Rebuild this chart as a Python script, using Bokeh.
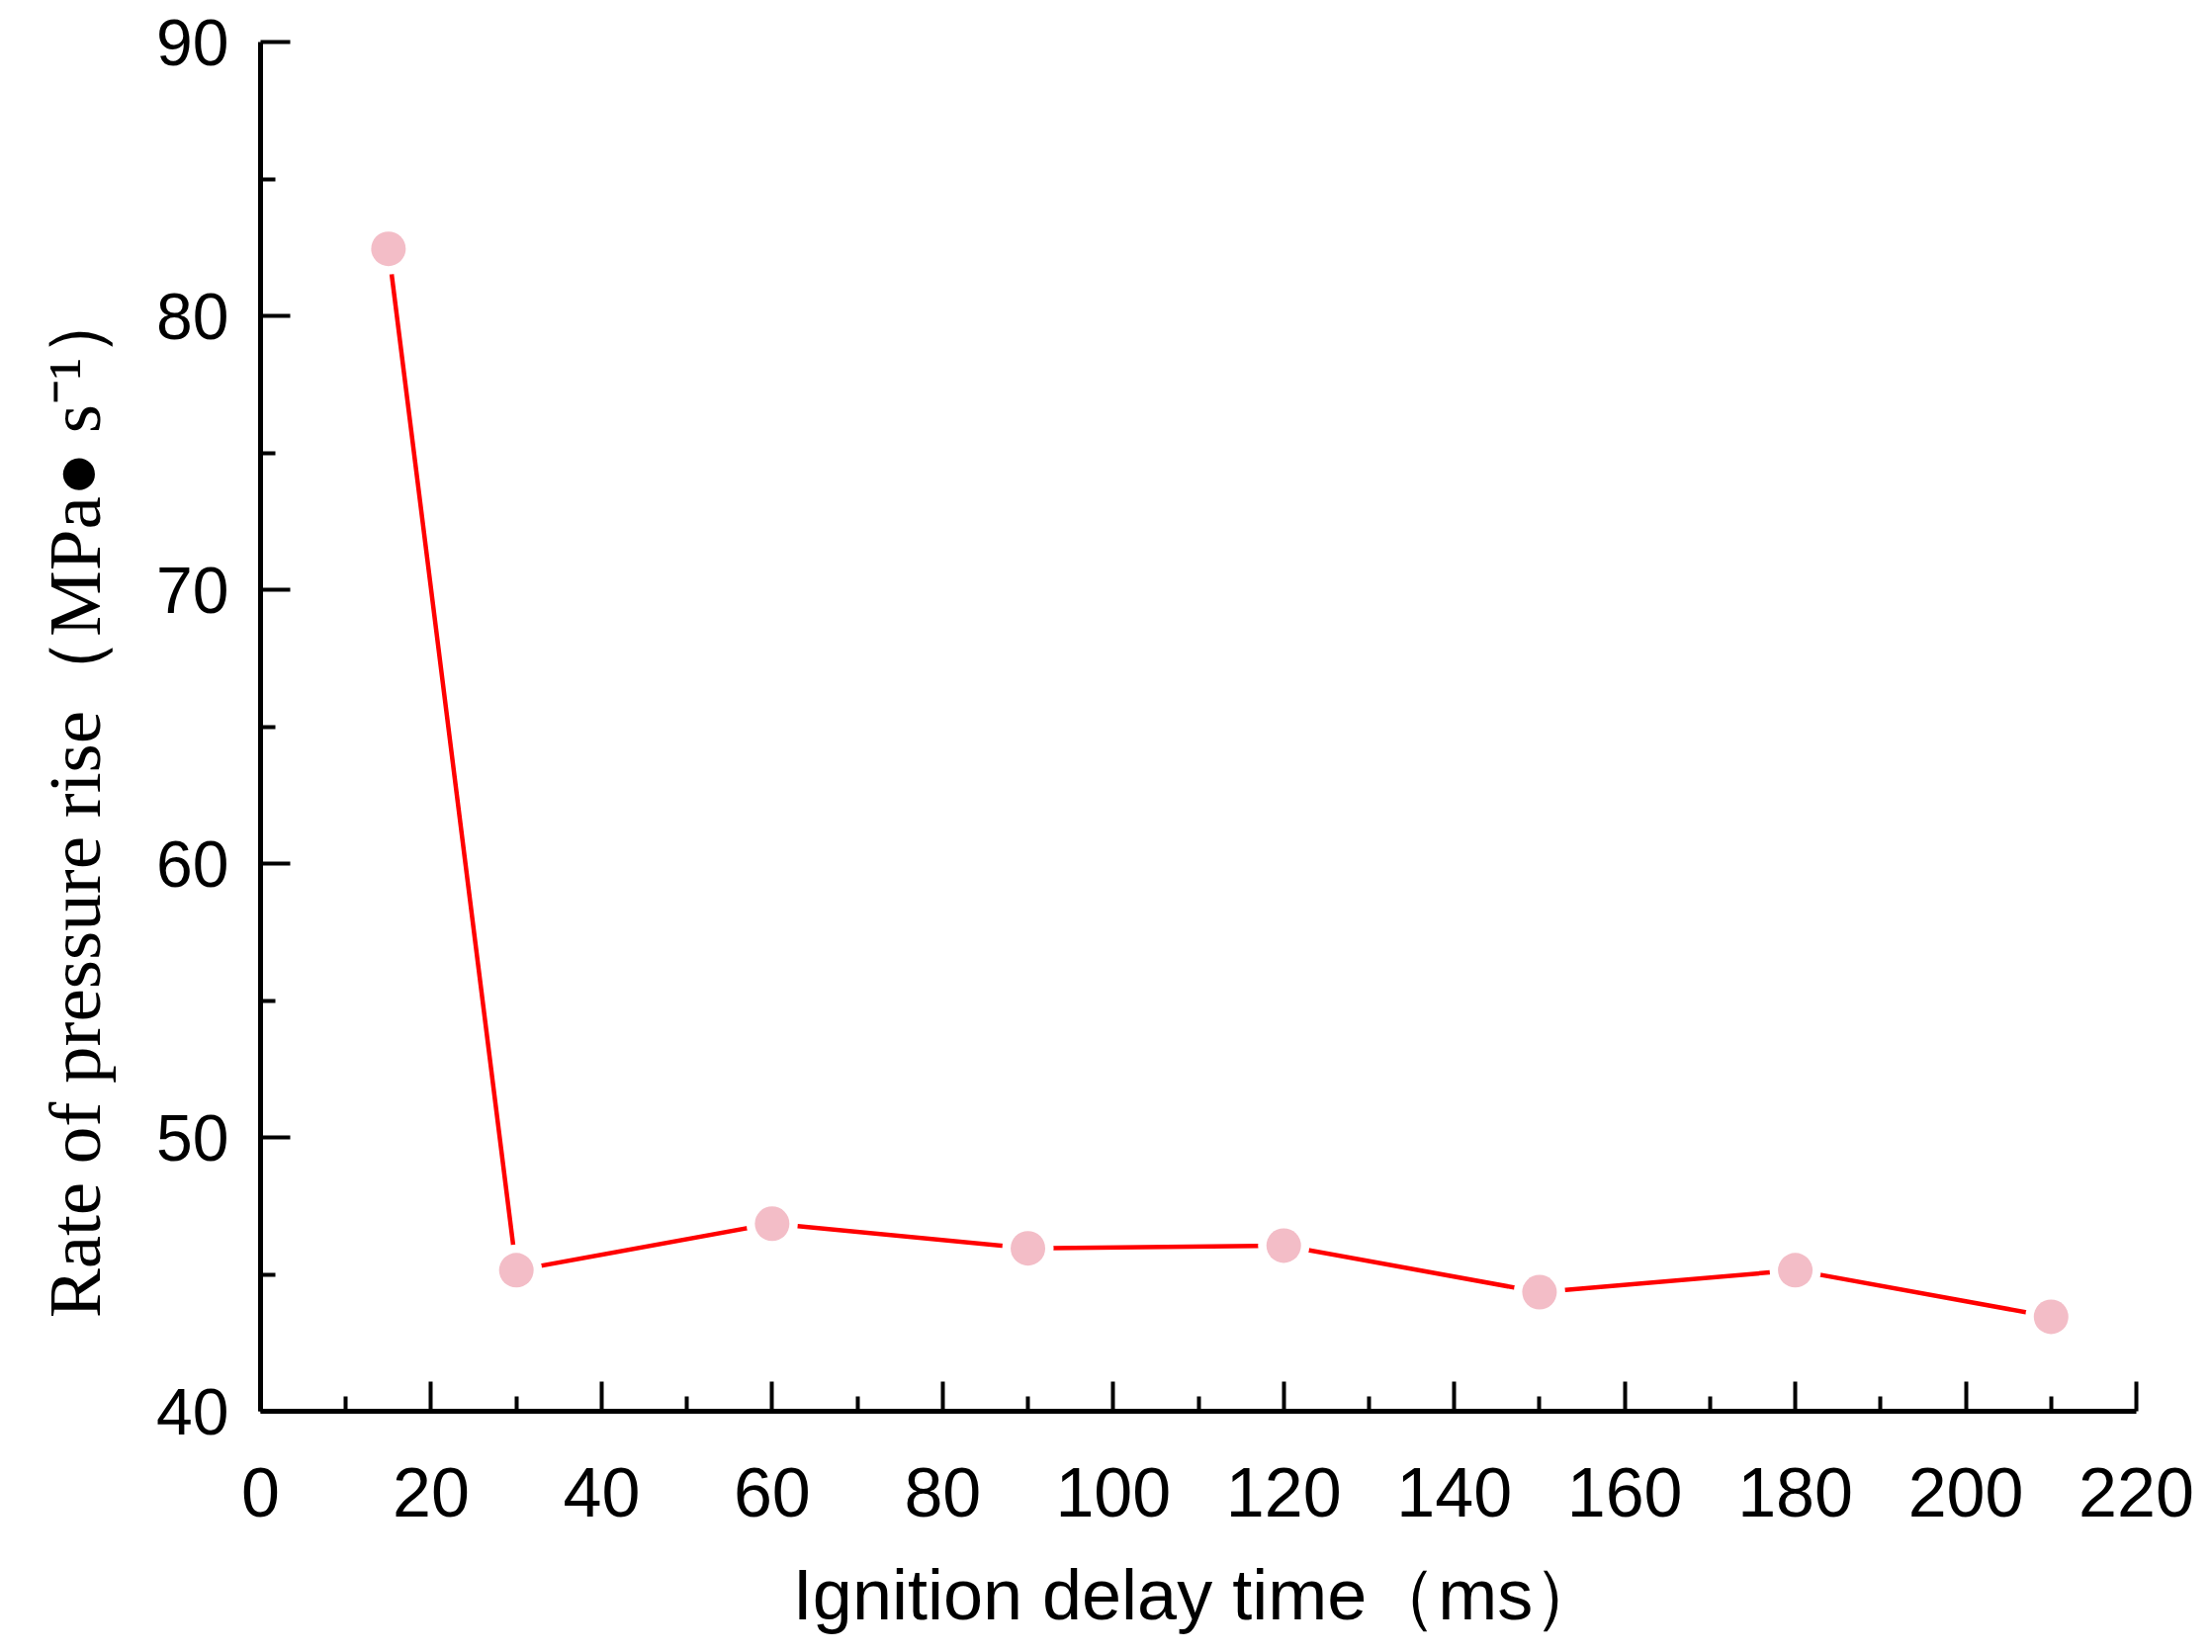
from bokeh.plotting import figure
from bokeh.models import Range1d, FixedTicker
from bokeh.embed import file_html
from bokeh.resources import INLINE

# Data
delay_ms = [15, 30, 60, 90, 120, 150, 180, 210]
rise_rate = [82.45, 45.15, 46.85, 45.95, 46.05, 44.35, 45.15, 43.45]

x_ticks = [0, 20, 40, 60, 80, 100, 120, 140, 160, 180, 200, 220]
y_ticks = [40, 50, 60, 70, 80, 90]

x_title = "Ignition delay time（ms）"
y_title = "Rate of pressure rise（MPa● s⁻¹）"
# trailing no-break spaces shift the visible title downward, as in the reference
y_pad = "\u00a0" * 8

p = figure(width=2221, height=1655, output_backend="svg", toolbar_location=None,
           x_range=Range1d(0, 220), y_range=Range1d(40, 90),
           min_border_left=263, min_border_right=61, min_border_top=42, min_border_bottom=218)

p.outline_line_color = None
p.xgrid.visible = False
p.ygrid.visible = False
p.background_fill_color = "white"
p.border_fill_color = "white"

p.line(delay_ms, rise_rate, line_color="#FF0000", line_width=4.5)
# white halo so the line stops short of each marker
p.scatter(delay_ms, rise_rate, size=52, fill_color="white", line_color=None)
p.scatter(delay_ms, rise_rate, size=35, fill_color="#F3BDC7", line_color=None)

for ax, ticks, half in ((p.xaxis, x_ticks, 10), (p.yaxis, y_ticks, 5)):
    ax.ticker = FixedTicker(ticks=ticks, minor_ticks=[t + half for t in ticks[:-1]])
    ax.axis_line_width = 5
    ax.axis_line_color = "black"
    ax.major_tick_in = 30
    ax.major_tick_out = 0
    ax.minor_tick_in = 15
    ax.minor_tick_out = 0
    ax.major_tick_line_width = 4
    ax.minor_tick_line_width = 4
    ax.major_tick_line_color = "black"
    ax.minor_tick_line_color = "black"
    ax.major_label_text_font = "Liberation Sans"
    ax.major_label_text_color = "black"

p.yaxis.major_label_text_font_size = "66px"
p.xaxis.major_label_text_font_size = "70px"
p.yaxis.major_label_standoff = 32
p.xaxis.major_label_standoff = 57

p.xaxis.axis_label = x_title
p.xaxis.axis_label_text_font = "Liberation Sans"
p.xaxis.axis_label_text_font_size = "72px"
p.xaxis.axis_label_text_font_style = "normal"
p.xaxis.axis_label_text_color = "black"
p.xaxis.axis_label_standoff = 36

p.yaxis.axis_label = y_title + y_pad
p.yaxis.axis_label_text_font = "Liberation Serif"
p.yaxis.axis_label_text_font_size = "75px"
p.yaxis.axis_label_text_font_style = "normal"
p.yaxis.axis_label_text_color = "black"
p.yaxis.axis_label_standoff = 38

open("out.html", "w").write(file_html(p, INLINE))
